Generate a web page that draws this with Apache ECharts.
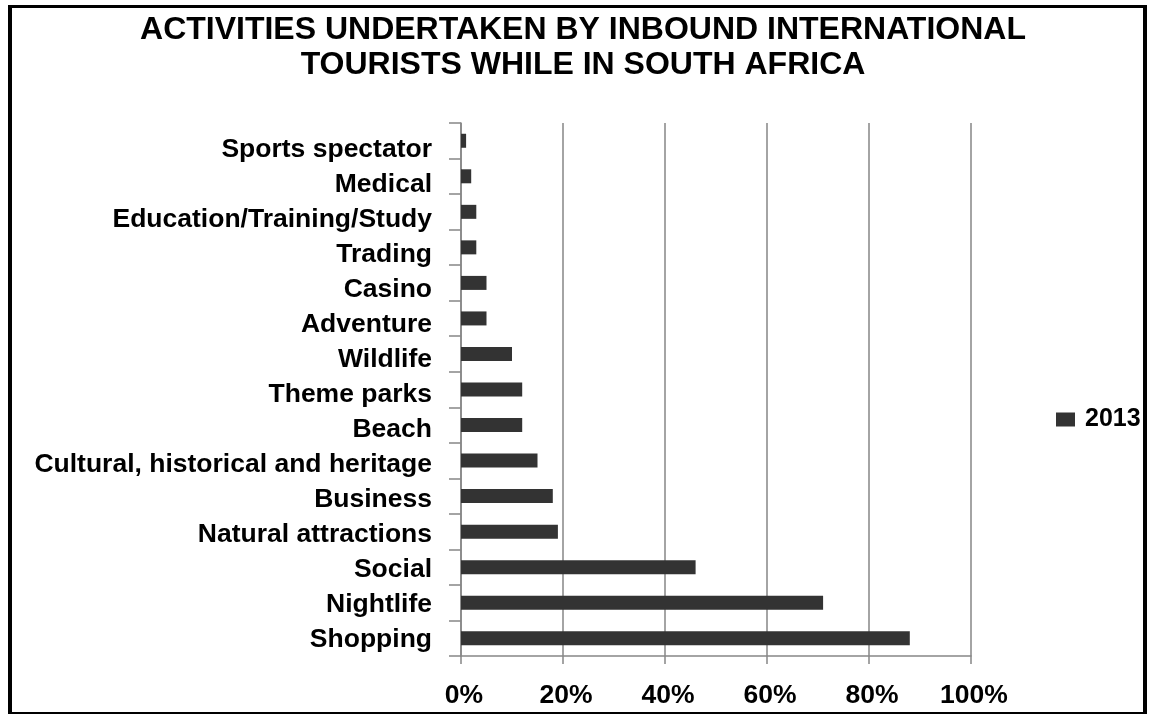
<!DOCTYPE html>
<html>
<head>
<meta charset="utf-8">
<script src="https://cdn.jsdelivr.net/npm/echarts@6/dist/echarts.min.js"></script>
<style>
html,body{margin:0;padding:0;background:#fff;}
#chart{width:1149px;height:715px;}
</style>
</head>
<body>
<div id="chart"></div>
<script>
const categories = ["Shopping","Nightlife","Social","Natural attractions","Business","Cultural, historical and heritage","Beach","Theme parks","Wildlife","Adventure","Casino","Trading","Education/Training/Study","Medical","Sports spectator"];
const values2013 = [88,71,46,19,18,15,12,12,10,5,5,3,3,2,1];
const xTicks = {min:0, max:100, interval:20};
const seriesName = "2013";
const titleText = "ACTIVITIES UNDERTAKEN BY INBOUND INTERNATIONAL\nTOURISTS WHILE IN SOUTH AFRICA";

const chart = echarts.init(document.getElementById('chart'), null, {renderer:'canvas'});
const font = 'Liberation Sans, Arial, sans-serif';
const axisGray = '#868686';
const labelStyle = {fontFamily:font, fontWeight:'bold', fontSize:26.5, color:'#000'};
const rich = {};
categories.forEach((c, i) => {
  const off = 1 + i * 0.54;
  rich['o' + i] = Object.assign({padding:[2 * off, 0, 0, 0]}, labelStyle);
});
chart.setOption({
  backgroundColor:'#fff',
  animation:false,
  title:{
    text:titleText,
    left:578, textAlign:'center', top:8,
    textStyle:{fontFamily:font, fontWeight:'bold', fontSize:32, lineHeight:35, color:'#000'}
  },
  legend:{
    left:1051, top:402, orient:'vertical',
    itemWidth:19, itemHeight:14, itemGap:0,
    icon:'rect',
    data:[seriesName],
    textStyle:{fontFamily:font, fontWeight:'bold', fontSize:25, color:'#000', padding:[0,0,0,5]}
  },
  grid:{left:461, right:178, top:123, bottom:59, containLabel:false},
  xAxis:{
    type:'value', min:xTicks.min, max:xTicks.max, interval:xTicks.interval,
    axisLine:{show:true, lineStyle:{color:axisGray, width:1.5}},
    axisTick:{show:true, length:8, lineStyle:{color:axisGray, width:1.5}},
    splitLine:{show:true, lineStyle:{color:axisGray, width:1.5}},
    axisLabel:Object.assign({formatter:'{value}%', margin:26, padding:[0,0,0,6]}, labelStyle)
  },
  yAxis:{
    type:'category', data:categories,
    axisLine:{show:true, lineStyle:{color:axisGray, width:1.5}},
    axisTick:{show:true, length:12, lineStyle:{color:axisGray, width:1.5}},
    axisLabel:Object.assign({margin:29, formatter:(v, i) => '{o' + i + '|' + v + '}', rich:rich}, labelStyle)
  },
  series:[{
    name:seriesName, type:'bar', data:values2013, barWidth:14,
    itemStyle:{color:'#333333'}
  }],
  graphic:[
    {type:'rect', shape:{x:8,y:5,width:4,height:709}, style:{fill:'#000'}},
    {type:'rect', shape:{x:8,y:5,width:1139,height:3}, style:{fill:'#000'}},
    {type:'rect', shape:{x:1143,y:5,width:4,height:709}, style:{fill:'#000'}},
    {type:'rect', shape:{x:8,y:712,width:1139,height:2}, style:{fill:'#000'}}
  ]
});
</script>
</body>
</html>
